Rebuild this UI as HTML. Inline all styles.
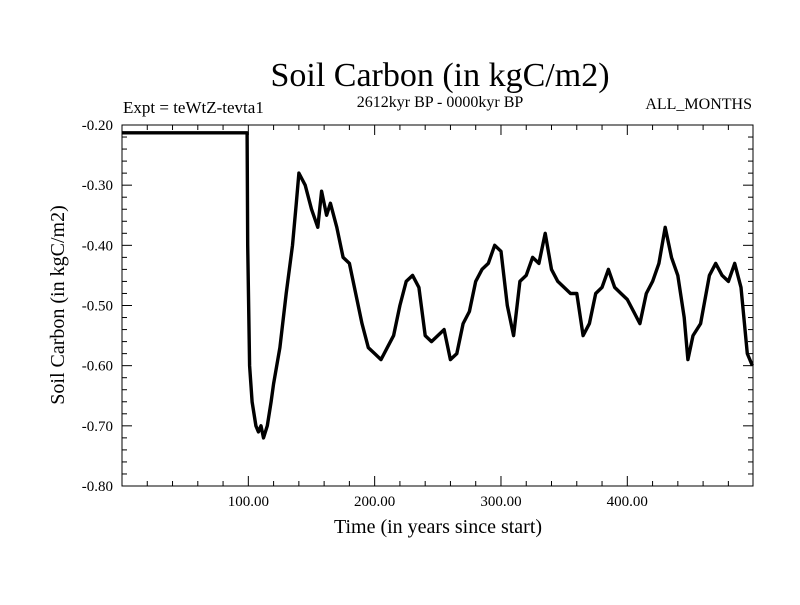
<!DOCTYPE html>
<html><head><meta charset="utf-8"><style>
body{margin:0;background:#fff}
svg text{font-family:"Liberation Serif",serif;fill:#000}
</style></head><body>
<svg id="chart" width="800" height="600">
<text x="440" y="86" font-size="34" text-anchor="middle">Soil Carbon (in kgC/m2)</text>
<text x="440" y="107" font-size="16" text-anchor="middle">2612kyr BP - 0000kyr BP</text>
<text x="123" y="113" font-size="17">Expt = teWtZ-tevta1</text>
<text x="752" y="109" font-size="16" text-anchor="end">ALL_MONTHS</text>
<text x="438" y="533" font-size="20" text-anchor="middle">Time (in years since start)</text>
<text transform="translate(64,305) rotate(-90)" font-size="20" text-anchor="middle">Soil Carbon (in kgC/m2)</text>
<g id="axes"></g>
<path id="line" fill="none" stroke="#000" stroke-width="3.4" stroke-linejoin="round"/>
<rect x="122" y="125" width="631" height="361" fill="none" stroke="#000" stroke-width="1"/>
</svg>
<script>
const years=[0,99,99.5,101,103,106,108,110,112,115,118,120,125,130,135,138,140,145,150,155,158,162,165,170,175,180,185,190,195,200,205,210,215,220,225,230,235,240,245,250,255,260,265,270,275,280,285,290,295,300,305,310,315,320,325,330,335,340,345,350,355,360,365,370,375,380,385,390,395,400,405,410,415,420,425,430,435,440,445,448,452,458,465,470,475,480,485,490,495,499];
const values=[-0.213,-0.213,-0.40,-0.60,-0.66,-0.70,-0.71,-0.70,-0.72,-0.70,-0.66,-0.63,-0.57,-0.48,-0.40,-0.33,-0.28,-0.30,-0.34,-0.37,-0.31,-0.35,-0.33,-0.37,-0.42,-0.43,-0.48,-0.53,-0.57,-0.58,-0.59,-0.57,-0.55,-0.50,-0.46,-0.45,-0.47,-0.55,-0.56,-0.55,-0.54,-0.59,-0.58,-0.53,-0.51,-0.46,-0.44,-0.43,-0.40,-0.41,-0.50,-0.55,-0.46,-0.45,-0.42,-0.43,-0.38,-0.44,-0.46,-0.47,-0.48,-0.48,-0.55,-0.53,-0.48,-0.47,-0.44,-0.47,-0.48,-0.49,-0.51,-0.53,-0.48,-0.46,-0.43,-0.37,-0.42,-0.45,-0.52,-0.59,-0.55,-0.53,-0.45,-0.43,-0.45,-0.46,-0.43,-0.47,-0.58,-0.60];
const xTicks=[100,200,300,400];
const yTicks=[-0.2,-0.3,-0.4,-0.5,-0.6,-0.7,-0.8];
const X0=122,X1=753,Y0=125,Y1=486,XMAX=499.5;
const sx=v=>X0+v/XMAX*(X1-X0);
const sy=v=>Y0+(-0.2-v)/0.6*(Y1-Y0);
const ns="http://www.w3.org/2000/svg";
const g=document.getElementById('axes');
function ln(x1,y1,x2,y2,name){const l=document.createElementNS(ns,'line');l.setAttribute('x1',x1);l.setAttribute('y1',y1);l.setAttribute('x2',x2);l.setAttribute('y2',y2);l.setAttribute('stroke','#000');


g.appendChild(l);}
function tx(x,y,s,anchor,name){const t=document.createElementNS(ns,'text');t.setAttribute('x',x);t.setAttribute('y',y);t.setAttribute('font-size','15');t.setAttribute('text-anchor',anchor);t.textContent=s;


g.appendChild(t);}
for(let v=20;v<XMAX;v+=20){const x=sx(v);const major=v%100===0;const L=major?10:5;ln(x,Y1,x,Y1-L,'x-tick');ln(x,Y0,x,Y0+L,'x-tick-top');}
xTicks.forEach(v=>tx(sx(v),506,v.toFixed(2),'middle','x-tick-label'));
for(let i=0;i<=30;i++){const v=-0.2-i*0.02;const y=sy(v);const major=i%5===0;const L=major?10:5;ln(X0,y,X0+L,y,'y-tick');ln(X1,y,X1-L,y,'y-tick-right');}
yTicks.forEach(v=>tx(113,sy(v)+5,v.toFixed(2),'end','y-tick-label'));
let d='';years.forEach((yr,i)=>{d+=(i?'L':'M')+sx(yr).toFixed(1)+','+sy(values[i]).toFixed(1);});
document.getElementById('line').setAttribute('d',d);
</script>
</body></html>
